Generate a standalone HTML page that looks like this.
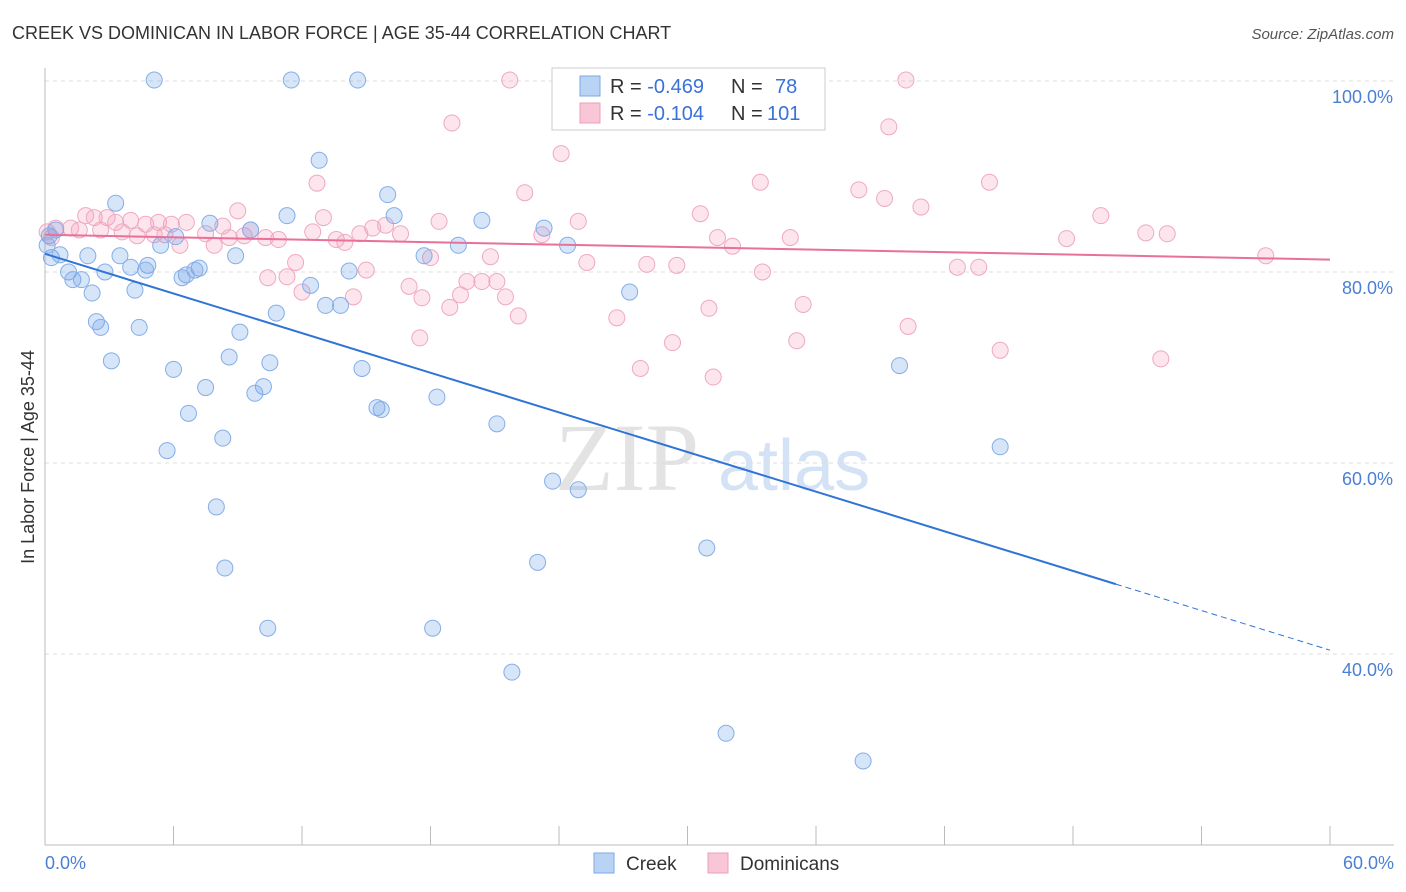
<!DOCTYPE html>
<html><head><meta charset="utf-8"><style>
body{margin:0;background:#fff;font-family:"Liberation Sans",sans-serif;}
#wrap{position:relative;width:1406px;height:892px;overflow:hidden;}
</style></head><body>
<div id="wrap">
<svg id="svg" width="1406" height="892" xmlns="http://www.w3.org/2000/svg">
<text x="12" y="39" font-size="18" fill="#333">CREEK VS DOMINICAN IN LABOR FORCE | AGE 35-44 CORRELATION CHART</text>
<text x="1394" y="39" font-size="15" font-style="italic" fill="#555" text-anchor="end">Source: ZipAtlas.com</text>
<g>
<text x="555" y="490" font-size="96" font-family="Liberation Serif,serif" fill="#e3e3e3">ZIP</text>
<text x="718" y="490" font-size="72" fill="#d4e2f5">atlas</text>
</g>
<g id="grid"></g><g id="axes"></g><g id="pts"></g><g id="lines"></g>
<text transform="translate(34,457) rotate(-90)" font-size="18" fill="#333" text-anchor="middle">In Labor Force | Age 35-44</text>
<g>
<rect x="552" y="68" width="273" height="62" fill="#fff" stroke="#ccc"/>
<rect x="580" y="76" width="20" height="20" fill="#b9d3f4" stroke="#7aa8e6"/>
<rect x="580" y="103" width="20" height="20" fill="#f9c6d6" stroke="#eba0b9"/>
<text x="610" y="93" font-size="20" fill="#333">R = <tspan fill="#3a72d8">-0.469</tspan><tspan x="731">N = </tspan><tspan x="775" fill="#3a72d8">78</tspan></text>
<text x="610" y="120" font-size="20" fill="#333">R = <tspan fill="#3a72d8"> -0.104</tspan><tspan x="731">N = </tspan><tspan x="767" fill="#3a72d8">101</tspan></text>
</g>
<g>
<rect x="594" y="853" width="20" height="20" fill="#b9d3f4" stroke="#7aa8e6"/>
<text x="626" y="870" font-size="19" fill="#333">Creek</text>
<rect x="708" y="853" width="20" height="20" fill="#f9c6d6" stroke="#eba0b9"/>
<text x="740" y="870" font-size="19" fill="#333">Dominicans</text>
</g>
</svg>
</div>
<script>
const creekX=[5.1,11.5,14.6,12.8,16.0,3.3,16.3,11.3,7.7,9.6,20.4,23.3,6.1,5.4,19.3,24.4,8.9,2.0,0.3,0.7,3.5,4.0,4.8,4.7,2.8,1.1,1.3,1.7,7.2,7.0,6.6,6.4,14.2,17.7,12.4,4.2,2.2,13.1,13.8,10.8,27.3,2.4,2.6,4.4,9.1,3.1,8.6,10.5,14.8,6.0,7.5,10.2,9.8,39.9,18.3,15.5,15.7,6.7,8.3,21.1,5.7,44.6,23.7,24.9,8.0,30.9,23.0,8.4,10.4,18.1,21.8,31.8,38.2,0.2,0.5,0.1];
const creekY=[100.1,100.1,100.1,91.7,88.1,87.2,85.9,85.9,85.1,84.4,85.4,84.6,83.7,82.8,82.8,82.8,81.7,81.7,81.5,81.8,81.7,80.5,80.7,80.2,80.0,80.0,79.2,79.2,80.4,80.2,79.7,79.4,80.1,81.7,78.6,78.1,77.8,76.5,76.5,75.7,77.9,74.8,74.2,74.2,73.7,70.7,71.1,70.5,69.9,69.8,67.9,68.0,67.3,70.2,66.9,65.8,65.6,65.2,62.6,64.1,61.3,61.7,58.1,57.2,55.4,51.1,49.6,49.0,42.7,42.7,38.1,31.7,28.8,83.8,84.4,82.8];
const domX=[21.7,28.4,40.2,19.0,39.4,24.1,12.7,22.4,33.4,38.0,39.2,44.1,40.9,9.0,30.6,49.3,18.4,24.9,13.0,1.9,2.3,2.9,3.3,4.0,4.7,5.3,5.9,6.6,8.3,9.6,0.5,1.2,1.6,2.6,3.6,4.3,5.1,5.6,7.5,8.6,9.3,10.3,10.9,12.5,13.6,14.0,14.7,15.3,15.9,16.6,23.2,31.4,32.1,34.8,47.7,51.4,52.4,6.3,7.9,11.7,10.4,11.3,15.0,18.0,20.8,25.3,28.1,29.5,33.5,42.6,43.6,57.0,17.0,17.6,19.7,20.4,21.1,19.4,18.9,21.5,12.0,14.4,22.1,26.7,31.0,35.4,40.3,17.5,29.3,35.1,44.6,52.1,27.8,31.2,0.1,0.3];
const domY=[100.1,100.1,100.1,95.6,95.2,92.4,89.3,88.3,89.4,88.6,87.7,89.4,86.8,86.4,86.1,85.9,85.3,85.3,85.7,85.9,85.7,85.7,85.2,85.4,85.0,85.2,85.0,85.2,84.8,84.4,84.6,84.6,84.4,84.4,84.2,83.8,83.9,83.9,84.0,83.6,83.8,83.6,83.4,84.2,83.4,83.1,84.0,84.6,84.9,84.0,83.9,83.6,82.7,83.6,83.5,84.1,84.0,82.8,82.8,81.0,79.4,79.5,80.2,81.5,81.6,81.0,80.8,80.7,80.0,80.5,80.5,81.7,78.5,77.3,79.0,79.0,79.0,77.6,76.3,77.4,77.9,77.4,75.4,75.2,76.2,76.6,74.3,73.1,72.6,72.8,71.8,70.9,69.9,69.0,84.2,83.6];
const yTicks=[100,80,60,40];
const yTickLabels=["100.0%","80.0%","60.0%","40.0%"];
const xTicks=[0,6,12,18,24,30,36,42,48,54,60];
const creekTrend=[81.9,40.4];
const domTrend=[83.9,81.3];
const creekSolidEnd=50;

const NS="http://www.w3.org/2000/svg";
const sx=v=>45+v*(1285/60);
const sy=v=>81+(100-v)*9.55;
function mk(tag,attrs,parent){const e=document.createElementNS(NS,tag);for(const k in attrs)e.setAttribute(k,attrs[k]);document.getElementById(parent).appendChild(e);return e;}
yTicks.forEach((t,i)=>{
  const l=mk('line',{x1:45,x2:1394,y1:sy(t),y2:sy(t),stroke:'#ddd','stroke-dasharray':'4,4'},'grid');
  
  
  const tx=mk('text',{x:1393,y:sy(t)+22,'font-size':18,fill:'#4a7fd4','text-anchor':'end'},'grid');
  tx.textContent=yTickLabels[i];
  
  
});
const ax=mk('line',{x1:45,x2:1394,y1:845,y2:845,stroke:'#bbb'},'axes');


const ay=mk('line',{x1:45,x2:45,y1:68,y2:845,stroke:'#bbb'},'axes');


xTicks.forEach(t=>{
  const l=mk('line',{x1:sx(t),x2:sx(t),y1:826,y2:845,stroke:'#bbb'},'axes');
  
  
});
const xl0=mk('text',{x:45,y:869,'font-size':18,fill:'#4a7fd4'},'axes');xl0.textContent='0.0%';


const xl1=mk('text',{x:1394,y:869,'font-size':18,fill:'#4a7fd4','text-anchor':'end'},'axes');xl1.textContent='60.0%';


function pts(X,Y,fill,stroke,name){X.forEach((x,i)=>{
  const c=mk('circle',{cx:sx(x),cy:sy(Y[i]),r:8,fill:fill,stroke:stroke,'stroke-width':1},'pts');
  
  
});}
pts(domX,domY,'rgba(244,160,190,0.28)','#f0a8c0','dominicans-point');
pts(creekX,creekY,'rgba(110,160,230,0.28)','#84aee8','creek-point');
const cy=x=>creekTrend[0]+(creekTrend[1]-creekTrend[0])*x/60;
const l1=mk('line',{x1:sx(0),y1:sy(cy(0)),x2:sx(creekSolidEnd),y2:sy(cy(creekSolidEnd)),stroke:'#2f74d6','stroke-width':2},'lines');


const l2=mk('line',{x1:sx(creekSolidEnd),y1:sy(cy(creekSolidEnd)),x2:sx(60),y2:sy(cy(60)),stroke:'#2f74d6','stroke-width':1,'stroke-dasharray':'6,4'},'lines');


const l3=mk('line',{x1:sx(0),y1:sy(domTrend[0]),x2:sx(60),y2:sy(domTrend[1]),stroke:'#e8709a','stroke-width':2},'lines');


</script>
</body></html>
